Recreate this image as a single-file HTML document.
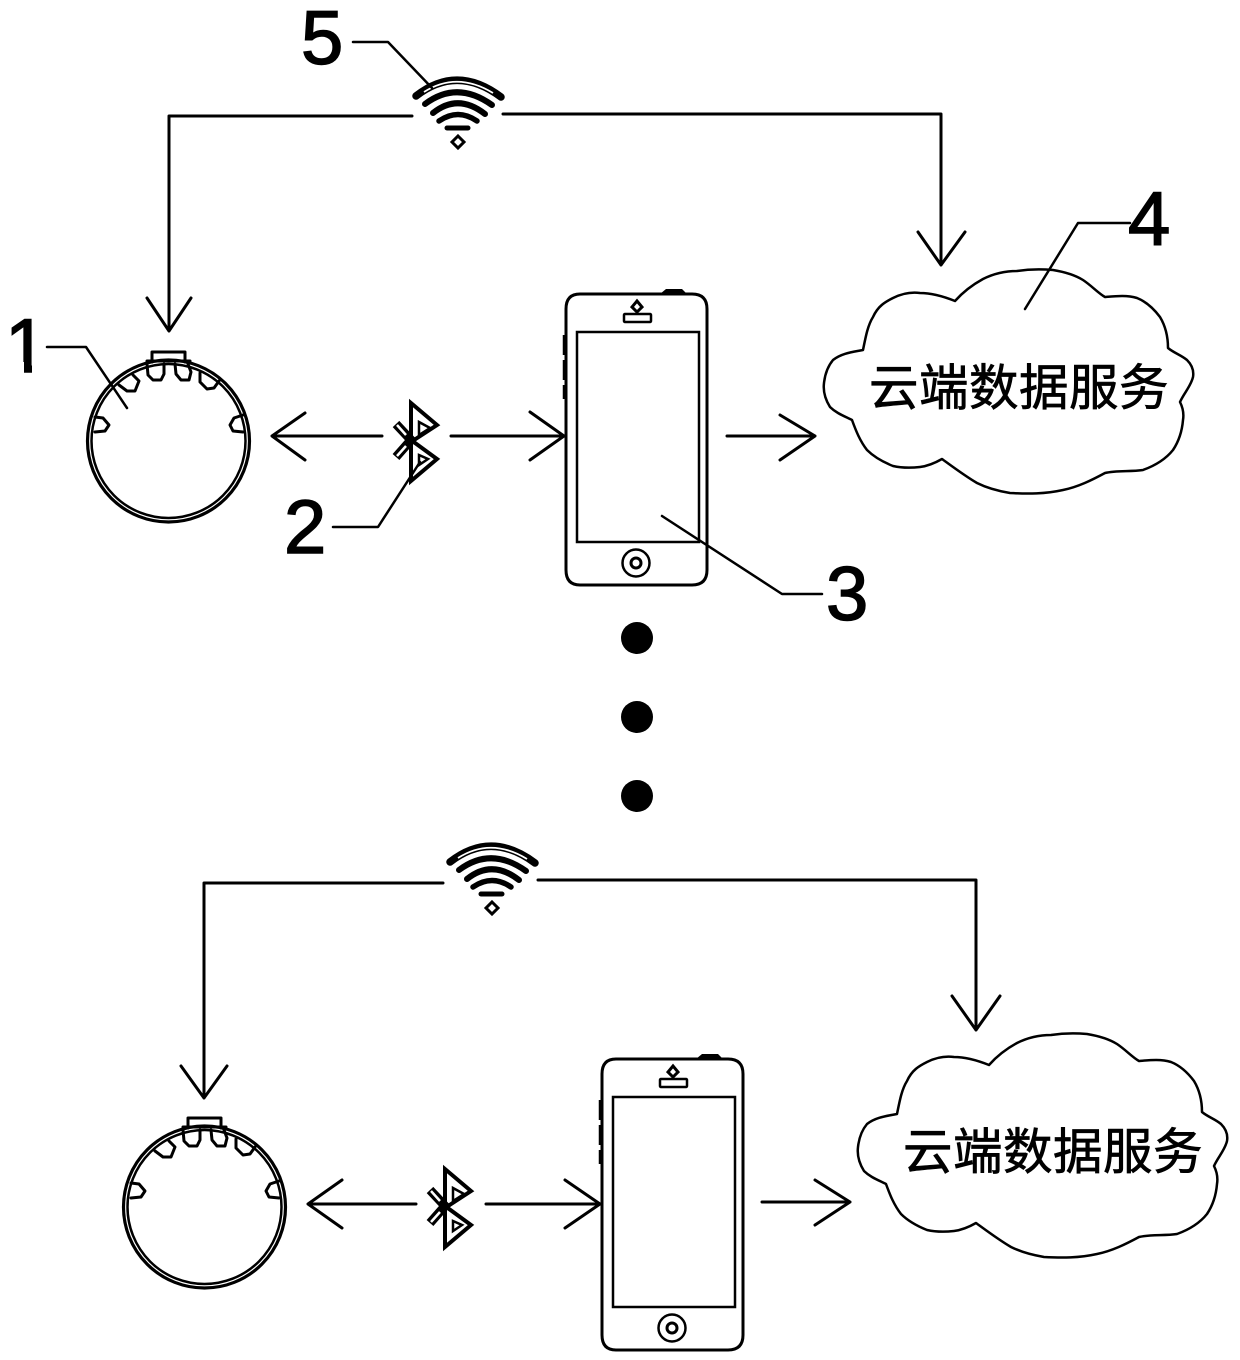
<!DOCTYPE html>
<html><head><meta charset="utf-8"><style>
html,body{margin:0;padding:0;background:#fff}
svg{display:block}
.l{fill:none;stroke:#000;stroke-width:3;stroke-linejoin:round;stroke-linecap:round}
.t{fill:none;stroke:#000;stroke-width:2.5;stroke-linejoin:round;stroke-linecap:round}
.n{font-family:"Liberation Sans",sans-serif;font-size:76px;fill:#000;stroke:#000;stroke-width:1.5}
.c{font-family:"Liberation Sans","Noto Sans CJK SC",sans-serif;font-size:49.5px;letter-spacing:.5px;fill:#000;stroke:#000;stroke-width:.7}
</style></head><body>
<svg width="1240" height="1360" viewBox="0 0 1240 1360" xmlns="http://www.w3.org/2000/svg">
<rect width="1240" height="1360" fill="#fff"/>
<defs>
<g id="ring">
<circle cx="168.5" cy="441" r="81" fill="none" stroke="#000" stroke-width="3.2"/>
<circle cx="168.5" cy="441" r="77" fill="none" stroke="#000" stroke-width="2.5"/>
<path class="l" fill="#fff" d="M152 362V352H185V362"/>
<path class="l" d="M147 361H190"/>
<path class="l" d="M147 364L148 375L153 380H161L164 374V364"/>
<path class="l" d="M175 364L176 374L181 380H189L191 372L188 364"/>
<path class="l" d="M119 385L127 391L135 391L139 381L133 375"/>
<path class="l" d="M200 373L200 382L207 389L214 388L219 381"/>
<path class="l" d="M95 417L103 418L109 425L105 431L95 432"/>
<path class="l" d="M243 415L234 418L230 425L233 431L243 432"/>
</g>
<g id="phone">
<path d="M660 294L666 289H682L687 294Z" fill="#000"/>
<path class="l" d="M580 294H692Q707 294 707 309V570Q707 585 692 585H580Q566 585 566 570V309Q566 294 580 294Z"/>
<path d="M565 335v20M565 360v20M565 385v14" stroke="#000" stroke-width="4.5" fill="none"/>
<rect x="577" y="332" width="122" height="210" fill="none" stroke="#000" stroke-width="2.5"/>
<rect x="624" y="314" width="27" height="8" rx="1" fill="none" stroke="#000" stroke-width="2.5"/>
<path d="M637 301L642 307L637 312L632 307Z" fill="none" stroke="#000" stroke-width="3"/>
<circle cx="636" cy="563" r="13.5" fill="none" stroke="#000" stroke-width="2.5"/>
<circle cx="636" cy="563" r="5" fill="none" stroke="#000" stroke-width="3"/>
</g>
<g id="bt">
<path d="M411 440L437 459L411 481V403L437 425L411 442" fill="none" stroke="#000" stroke-width="4" stroke-linejoin="miter"/>
<path d="M396 424L411 440L396 457" fill="none" stroke="#000" stroke-width="9" stroke-linejoin="miter"/>
<path d="M397 425L406 435M397 456L406 446" fill="none" stroke="#fff" stroke-width="2.5"/>
<path d="M419 422L430 428L419 435Z M419 455L428 459L419 465Z" fill="none" stroke="#000" stroke-width="2.5"/>
</g>
<g id="wifi">
<path d="M416 96Q457 64 501 97" fill="none" stroke="#000" stroke-width="7.5" stroke-linecap="round"/>
<path d="M424 92Q457 71 493 93" fill="none" stroke="#fff" stroke-width="1.8"/>
<path d="M425 104Q457 80 492 105" fill="none" stroke="#000" stroke-width="6" stroke-linecap="round"/>
<path d="M433 113Q458 93 485 114" fill="none" stroke="#000" stroke-width="6" stroke-linecap="round"/>
<path d="M439 121Q458 108 477 121" fill="none" stroke="#000" stroke-width="5.5" stroke-linecap="round"/>
<path d="M447 128H468" fill="none" stroke="#000" stroke-width="5" stroke-linecap="round"/>
<path d="M458 136L464 142L458 148L452 142Z" fill="none" stroke="#000" stroke-width="3"/>
</g>
<g id="cloud">
<path class="t" fill="#fff" d="M863 350C866 335 868 325 873 317C878 306 885 302 893 298C903 293 912 292 920 293C932 293 945 297 955 301C963 292 972 285 983 279C993 274 1005 271 1017 271C1030 269 1042 269 1053 270C1065 272 1075 275 1083 280C1092 286 1098 293 1105 297C1117 296 1127 295 1137 298C1147 302 1154 309 1160 317C1166 327 1168 338 1168 348C1174 353 1181 355 1187 360C1192 365 1194 371 1193 377C1191 386 1184 393 1180 402C1183 408 1184 414 1183 420C1182 432 1179 441 1173 450C1165 460 1154 466 1143 470C1130 472 1117 470 1105 473C1092 480 1078 487 1063 490C1045 494 1028 494 1010 493C998 491 987 488 977 483C965 476 953 467 942 459C935 463 928 466 920 467C911 468 902 468 893 466C883 462 874 457 867 450C860 441 856 431 852 420C844 416 836 413 830 407C825 399 823 391 824 383C825 374 828 366 833 360C842 353 853 352 863 350Z"/>
</g>
</defs>

<!-- top group -->
<use href="#wifi"/>
<use href="#ring"/>
<use href="#phone"/>
<use href="#cloud"/>
<use href="#bt"/>
<text class="c" x="869" y="405">云端数据服务</text>
<path class="l" d="M412 116H169V330M147 298L169 331L191 298"/>
<path class="l" d="M503 114H941V265M918 232L941 265L965 232"/>
<path class="l" d="M382 436H272M305 413L272 436L305 460"/>
<path class="l" d="M451 436H564M530 412L564 436L530 460"/>
<path class="l" d="M727 436H815M780 415L815 436L780 460"/>
<circle cx="637" cy="638" r="16" fill="#000"/>
<circle cx="637" cy="717" r="16" fill="#000"/>
<circle cx="637" cy="796" r="16" fill="#000"/>

<!-- leaders and numerals -->
<path class="t" d="M47 347H86L127 408"/>
<path class="t" d="M333 527H378L420 462"/>
<path class="t" d="M662 516L782 594H822"/>
<path class="t" d="M1025 309L1078 223H1130"/>
<path class="t" d="M353 42H388L432 88"/>
<text class="n" x="5" y="372">1</text>
<rect x="0" y="362" width="24" height="13" fill="#fff"/>
<rect x="32" y="362" width="14" height="13" fill="#fff"/>
<text class="n" x="284" y="553">2</text>
<text class="n" x="826" y="620">3</text>
<text class="n" x="1128" y="245">4</text>
<text class="n" x="301" y="64">5</text>

<!-- bottom group -->
<use href="#wifi" x="34" y="766"/>
<use href="#ring" x="36" y="766"/>
<use href="#phone" x="36" y="765"/>
<use href="#cloud" x="34" y="764"/>
<use href="#bt" x="34" y="766"/>
<text class="c" x="903" y="1169">云端数据服务</text>
<path class="l" d="M443 883H204V1098M181 1066L204 1098L227 1066"/>
<path class="l" d="M538 880H976V1030M952 996L976 1030L1000 996"/>
<path class="l" d="M416 1204H308M342 1180L308 1204L342 1228"/>
<path class="l" d="M486 1204H600M565 1180L600 1204L565 1228"/>
<path class="l" d="M762 1202H850M815 1180L850 1202L815 1225"/>
</svg>
</body></html>
